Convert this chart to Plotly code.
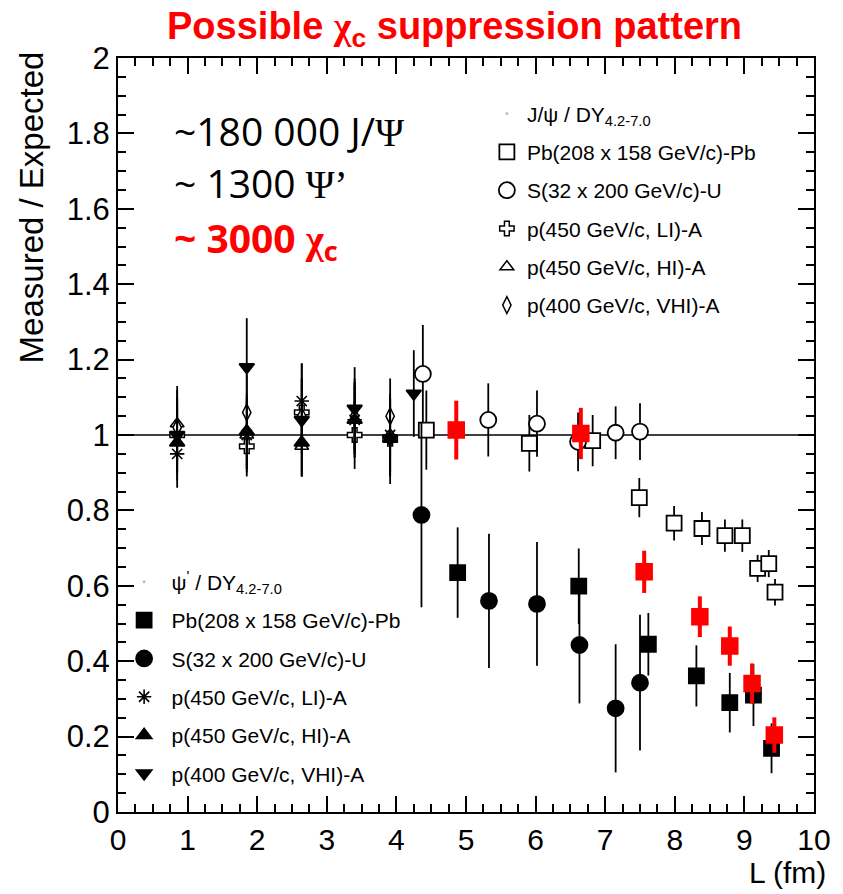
import plotly.graph_objects as go

# ---------------- data ----------------
# J/psi / DY  (open symbols)
jpsi_pbpb_L = [4.43, 5.91, 6.82, 7.49, 7.99, 8.39, 8.72, 8.97, 9.19, 9.35, 9.44]
jpsi_pbpb_R = [1.013, 0.978, 0.985, 0.834, 0.766, 0.752, 0.733, 0.733, 0.646, 0.659, 0.583]
jpsi_pbpb_E = [0.105, 0.075, 0.068, 0.052, 0.046, 0.044, 0.043, 0.043, 0.036, 0.036, 0.035]

jpsi_su_L = [4.38, 5.32, 6.02, 6.61, 7.15, 7.50]
jpsi_su_R = [1.162, 1.04, 1.03, 0.982, 1.006, 1.009]
jpsi_su_E = [0.13, 0.097, 0.088, 0.078, 0.07, 0.075]

jpsi_li_L = [0.85, 1.85, 2.64, 3.40, 3.91]
jpsi_li_R = [1.00, 0.97, 1.06, 1.00, 0.99]
jpsi_li_E = [0.10, 0.08, 0.09, 0.09, 0.10]

jpsi_hi_L = [0.85, 1.85, 2.64, 3.40, 3.91]
jpsi_hi_R = [1.03, 1.00, 0.97, 1.04, 1.00]
jpsi_hi_E = [0.10, 0.09, 0.08, 0.09, 0.10]

jpsi_vhi_L = [0.85, 1.85, 2.64, 3.40, 3.91]
jpsi_vhi_R = [1.02, 1.06, 1.05, 1.05, 1.05]
jpsi_vhi_E = [0.10, 0.10, 0.10, 0.10, 0.10]

# psi' / DY  (filled symbols)
psip_pbpb_L = [4.88, 6.62, 7.62, 8.31, 8.79, 9.13, 9.39]
psip_pbpb_R = [0.635, 0.599, 0.445, 0.361, 0.29, 0.31, 0.169]
psip_pbpb_E = [0.12, 0.10, 0.083, 0.081, 0.079, 0.082, 0.066]

psip_su_L = [4.36, 5.33, 6.02, 6.63, 7.15, 7.50]
psip_su_R = [0.788, 0.56, 0.552, 0.443, 0.275, 0.343]
psip_su_E = [0.245, 0.178, 0.164, 0.155, 0.17, 0.18]

psip_li_L = [0.85, 1.85, 2.64, 3.40, 3.91]
psip_li_R = [0.95, 1.00, 1.09, 1.04, 1.00]
psip_li_E = [0.09, 0.10, 0.10, 0.10, 0.10]

psip_hi_L = [0.85, 1.85, 2.64, 3.40, 3.91]
psip_hi_R = [0.98, 1.01, 0.98, 1.04, 0.99]
psip_hi_E = [0.10, 0.10, 0.09, 0.10, 0.10]

psip_vhi_L = [0.85, 1.85, 2.64, 3.40, 3.91, 4.25]
psip_vhi_R = [1.00, 1.18, 1.04, 1.07, 0.99, 1.11]
psip_vhi_E = [0.10, 0.13, 0.15, 0.11, 0.12, 0.115]

# chi_c (red)
chic_L = [4.86, 6.65, 7.56, 8.36, 8.79, 9.11, 9.43]
chic_R = [1.013, 1.004, 0.637, 0.518, 0.44, 0.341, 0.204]
chic_E = [0.078, 0.068, 0.056, 0.054, 0.052, 0.053, 0.047]

ref_level = 1.0

jpsi_names = ["Pb(208 x 158 GeV/c)-Pb", "S(32 x 200 GeV/c)-U", "p(450 GeV/c, LI)-A",
              "p(450 GeV/c, HI)-A", "p(400 GeV/c, VHI)-A"]
jpsi_header = "J/ψ / DY<sub>4.2-7.0</sub>"
psip_header = "ψ<sup>'</sup> / DY<sub>4.2-7.0</sub>"

# --------------- figure ---------------
fig = go.Figure()
FONT = "Liberation Sans, Arial, sans-serif"


def add(L, R, E, name, symbol, size, fill, legend, group, lw=1.8, ecolor="black", ew=1.8):
    fig.add_trace(go.Scatter(
        x=L, y=R, mode="markers", name=name, legend=legend, legendgroup=group,
        marker=dict(symbol=symbol, size=size, color=fill,
                    line=dict(color="black", width=lw)),
        error_y=dict(type="data", array=E, visible=True, color=ecolor,
                     thickness=ew, width=0),
    ))


# headers (legend only)
fig.add_trace(go.Scatter(x=[None], y=[None], mode="markers", name=jpsi_header,
                         legend="legend", legendgroup="j0",
                         marker=dict(size=3, color="#bbbbbb")))
add(jpsi_pbpb_L, jpsi_pbpb_R, jpsi_pbpb_E, jpsi_names[0], "square", 15, "white", "legend", "j1")
add(jpsi_su_L, jpsi_su_R, jpsi_su_E, jpsi_names[1], "circle", 16, "white", "legend", "j2")
add(jpsi_li_L, jpsi_li_R, jpsi_li_E, jpsi_names[2], "cross", 12, "white", "legend", "j3", lw=1.5)
add(jpsi_hi_L, jpsi_hi_R, jpsi_hi_E, jpsi_names[3], "triangle-up", 12, "white", "legend", "j4", lw=1.5)
add(jpsi_vhi_L, jpsi_vhi_R, jpsi_vhi_E, jpsi_names[4], "diamond-tall", 12, "white", "legend", "j5", lw=1.5)

fig.add_trace(go.Scatter(x=[None], y=[None], mode="markers", name=psip_header,
                         legend="legend2", legendgroup="p0",
                         marker=dict(size=3, color="#bbbbbb")))
add(psip_pbpb_L, psip_pbpb_R, psip_pbpb_E, jpsi_names[0], "square", 15, "black", "legend2", "p1")
add(psip_su_L, psip_su_R, psip_su_E, jpsi_names[1], "circle", 16, "black", "legend2", "p2")
add(psip_li_L, psip_li_R, psip_li_E, jpsi_names[2], "asterisk-open", 12, "black", "legend2", "p3", lw=1.6)
add(psip_hi_L, psip_hi_R, psip_hi_E, jpsi_names[3], "triangle-up", 13, "black", "legend2", "p4")
add(psip_vhi_L, psip_vhi_R, psip_vhi_E, jpsi_names[4], "triangle-down", 13, "black", "legend2", "p5")

# chi_c red
fig.add_trace(go.Scatter(
    x=chic_L, y=chic_R, mode="markers", showlegend=False,
    marker=dict(symbol="square", size=15, color="#ff0000",
                line=dict(color="#ff0000", width=2.5)),
    error_y=dict(type="data", array=chic_E, visible=True, color="#ff0000",
                 thickness=4, width=0),
))

fig.add_hline(y=ref_level, line=dict(color="black", width=1.5), layer="below")

axis_common = dict(
    showgrid=False, zeroline=False, showline=True, linecolor="black", linewidth=2,
    mirror="ticks", ticks="inside", ticklen=16, tickwidth=1.8, tickcolor="black",
)
fig.update_xaxes(range=[0, 10], tick0=0, dtick=1,
                 tickfont=dict(family=FONT, size=30, color="black"),
                 minor=dict(dtick=0.25, ticks="inside", ticklen=8, tickwidth=1.5,
                            tickcolor="black"),
                 **axis_common)
fig.update_yaxes(range=[0, 2], tick0=0, dtick=0.2,
                 tickfont=dict(family=FONT, size=31, color="black"),
                 minor=dict(dtick=0.05, ticks="inside", ticklen=8, tickwidth=1.5,
                            tickcolor="black"),
                 **axis_common)

legend_common = dict(
    font=dict(family=FONT, size=21, color="black"),
    bgcolor="rgba(0,0,0,0)", borderwidth=0,
    traceorder="grouped", tracegroupgap=8, xanchor="left", yanchor="top",
    itemclick=False,
)
fig.update_layout(
    width=843, height=894,
    margin=dict(l=118, r=17, t=58, b=82),
    plot_bgcolor="white", paper_bgcolor="white",
    showlegend=True,
    legend=dict(x=0.53, y=0.953, **legend_common),
    legend2=dict(x=-0.002, y=0.332, itemwidth=45, **legend_common),
    annotations=[
        dict(text="<b>Possible <span style='font-family:Liberation Serif'>χ</span><sub>c</sub> suppression pattern</b>",
             xref="paper", yref="paper",
             x=0.484, y=1.038, xanchor="center", yanchor="middle", showarrow=False,
             font=dict(family=FONT, size=38, color="#ff0000")),
        dict(text="Measured / Expected", xref="paper", yref="paper", textangle=-90,
             x=-0.124, y=1.011, xanchor="center", yanchor="top", showarrow=False,
             font=dict(family=FONT, size=33, color="black")),
        dict(text="L (fm)", xref="paper", yref="paper", x=1.02, y=-0.105,
             xanchor="right", yanchor="bottom", showarrow=False,
             font=dict(family=FONT, size=30, color="black")),
        dict(text="~180 000 J/<span style='font-family:Liberation Serif'>Ψ</span>",
             xref="x", yref="y", x=0.78, y=1.809,
             xanchor="left", yanchor="middle", showarrow=False,
             font=dict(family="Open Sans", size=39, color="black")),
        dict(text="~ 1300 <span style='font-family:Liberation Serif'>Ψ’</span>",
             xref="x", yref="y", x=0.78, y=1.671,
             xanchor="left", yanchor="middle", showarrow=False,
             font=dict(family="Open Sans", size=39, color="black")),
        dict(text="<b>~ 3000 <span style='font-family:Liberation Serif'>χ</span><sub>c</sub></b>",
             xref="x", yref="y", x=0.78, y=1.517,
             xanchor="left", yanchor="middle", showarrow=False,
             font=dict(family="Open Sans", size=39, color="#ff0000")),
    ],
)

fig.write_html("out.html")
